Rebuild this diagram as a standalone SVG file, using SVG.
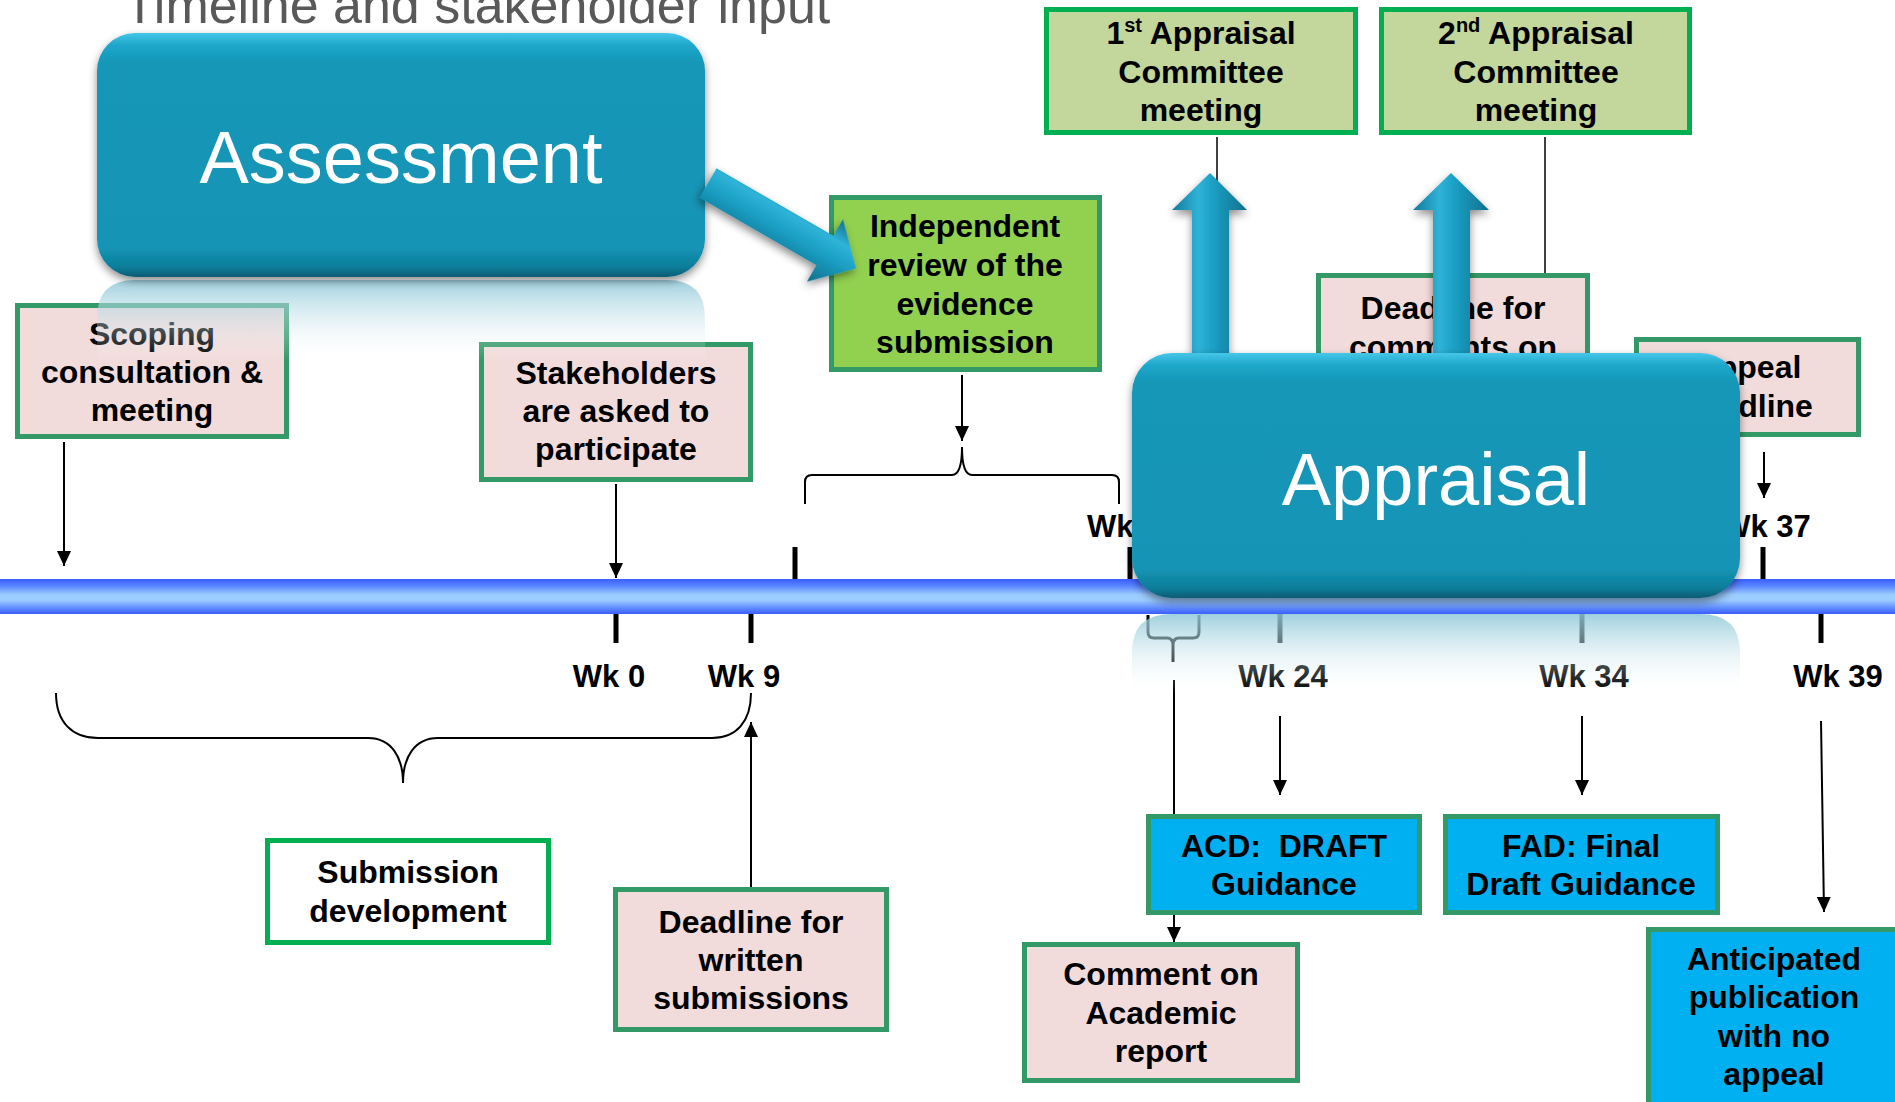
<svg xmlns="http://www.w3.org/2000/svg" width="1895" height="1102" viewBox="0 0 1895 1102">
<style>
.lbl{font-family:"Liberation Sans",Arial,sans-serif;font-weight:bold;font-size:32px;fill:#000;text-anchor:middle}
.wk{font-family:"Liberation Sans",Arial,sans-serif;font-weight:bold;font-size:31px;fill:#000;text-anchor:middle}
.big{font-family:"Liberation Sans",Arial,sans-serif;font-size:74px;fill:#fff;text-anchor:middle}
.title{font-family:"Liberation Sans",Arial,sans-serif;font-size:52px;fill:#595959}
.pink{fill:#f2dcdb;stroke:#339966;stroke-width:5}
.olive{fill:#c3d69b;stroke:#00b050;stroke-width:5}
.green{fill:#92d050;stroke:#339966;stroke-width:5}
.blue{fill:#00b0f0;stroke:#339966;stroke-width:5}
.white{fill:#fff;stroke:#00b050;stroke-width:5}
.conn{stroke:#000;stroke-width:2;fill:none}
.tick{stroke:#000;stroke-width:5}
</style>
<defs>
<marker id="ah" viewBox="0 0 15 14" refX="15" refY="7" markerWidth="15" markerHeight="14" markerUnits="userSpaceOnUse" orient="auto">
<path d="M0,0 L15,7 L0,14 z" fill="#000"/>
</marker>
<linearGradient id="bar" x1="0" y1="0" x2="0" y2="1">
<stop offset="0" stop-color="#3a5cff"/><stop offset="0.2" stop-color="#5a86ff"/><stop offset="0.45" stop-color="#9ccdff"/><stop offset="0.6" stop-color="#9ccdff"/><stop offset="0.85" stop-color="#5a86ff"/><stop offset="1" stop-color="#3a5cff"/>
</linearGradient>
<linearGradient id="box3d" x1="0" y1="0" x2="0" y2="1">
<stop offset="0" stop-color="#44c6e8"/><stop offset="0.05" stop-color="#1ea7ca"/><stop offset="0.12" stop-color="#1497b8"/><stop offset="0.88" stop-color="#1394b5"/><stop offset="0.96" stop-color="#0f7d99"/><stop offset="1" stop-color="#0b5c72"/>
</linearGradient>
<linearGradient id="refl" x1="0" y1="0" x2="0" y2="1">
<stop offset="0" stop-color="#8ec8d8" stop-opacity="0.85"/><stop offset="1" stop-color="#ffffff" stop-opacity="0"/>
</linearGradient>
<linearGradient id="shaft" x1="0" y1="0" x2="1" y2="0">
<stop offset="0" stop-color="#137a99"/><stop offset="0.35" stop-color="#2fb3d8"/><stop offset="0.55" stop-color="#1b9fc4"/><stop offset="1" stop-color="#0f6f8c"/>
</linearGradient>
<linearGradient id="shaftD" x1="0" y1="0" x2="0" y2="1">
<stop offset="0" stop-color="#0f6f8c"/><stop offset="0.3" stop-color="#2fb3d8"/><stop offset="0.55" stop-color="#1b9fc4"/><stop offset="1" stop-color="#0f6f8c"/>
</linearGradient>
<filter id="sh" x="-10%" y="-10%" width="120%" height="130%">
<feDropShadow dx="0" dy="4" stdDeviation="4" flood-color="#000" flood-opacity="0.45"/>
</filter>
</defs>

<text class="title" x="124" y="23">Timeline and stakeholder input</text>

<g id="timeline">
<rect x="0" y="579" width="1895" height="35" fill="url(#bar)"/>
<line class="tick" x1="795" y1="547" x2="795" y2="579"/>
<line class="tick" x1="1130" y1="547" x2="1130" y2="579"/>
<line class="tick" x1="1763" y1="547" x2="1763" y2="579"/>
<line class="tick" x1="616" y1="614" x2="616" y2="643"/>
<line class="tick" x1="751" y1="614" x2="751" y2="643"/>
<line class="tick" x1="1280" y1="614" x2="1280" y2="643"/>
<line class="tick" x1="1582" y1="614" x2="1582" y2="643"/>
<line class="tick" x1="1821" y1="614" x2="1821" y2="643"/>
<text class="wk" x="609" y="687">Wk 0</text>
<text class="wk" x="744" y="687">Wk 9</text>
<text class="wk" x="1283" y="687">Wk 24</text>
<text class="wk" x="1584" y="687">Wk 34</text>
<text class="wk" x="1838" y="687">Wk 39</text>
<text class="wk" x="1087" y="537" style="text-anchor:start">Wk</text>
<text class="wk" x="1766" y="537">Wk 37</text>
</g>

<g id="connectors">
<line class="conn" x1="64" y1="442" x2="64" y2="566" marker-end="url(#ah)"/>
<line class="conn" x1="616" y1="484" x2="616" y2="578" marker-end="url(#ah)"/>
<line class="conn" x1="962" y1="375" x2="962" y2="441" marker-end="url(#ah)"/>
<path class="conn" d="M805,504 L805,482 Q805,475 812,475 L952,475 Q962,475 962,447 Q962,475 972,475 L1112,475 Q1119,475 1119,482 L1119,504"/>
<path class="conn" d="M56,693 C56,722 72,738 98,738 L368,738 C392,738 403,758 403,783 C403,758 414,738 438,738 L712,738 C736,738 751,722 751,693"/>
<line class="conn" x1="751" y1="888" x2="751" y2="722" marker-end="url(#ah)"/>
<path class="conn" style="stroke-width:3" d="M1148,615 L1148,632 Q1148,638 1154,638 L1167,638 Q1173,638 1173,645 L1173,662 M1173,645 Q1173,638 1179,638 L1193,638 Q1199,638 1199,632 L1199,615"/>
<line class="conn" x1="1174" y1="680" x2="1174" y2="942" marker-end="url(#ah)"/>
<line class="conn" x1="1280" y1="716" x2="1280" y2="795" marker-end="url(#ah)"/>
<line class="conn" x1="1582" y1="716" x2="1582" y2="795" marker-end="url(#ah)"/>
<line class="conn" x1="1821" y1="721" x2="1824" y2="912" marker-end="url(#ah)"/>
<line class="conn" x1="1764" y1="452" x2="1764" y2="498" marker-end="url(#ah)"/>
<line class="conn" style="stroke-width:1.5" x1="1217" y1="137" x2="1217" y2="360"/>
<line class="conn" style="stroke-width:1.5" x1="1545" y1="137" x2="1545" y2="273"/>
</g>

<g id="scoping">
<rect class="pink" x="17.5" y="305.5" width="269" height="131"/>
<text class="lbl" x="152" y="345">Scoping</text>
<text class="lbl" x="152" y="383">consultation &amp;</text>
<text class="lbl" x="152" y="421">meeting</text>
</g>

<g id="stakeholders">
<rect class="pink" x="481.5" y="344.5" width="269" height="135"/>
<text class="lbl" x="616" y="384">Stakeholders</text>
<text class="lbl" x="616" y="422">are asked to</text>
<text class="lbl" x="616" y="460">participate</text>
</g>

<g id="independent">
<rect class="green" x="831.5" y="197.5" width="268" height="172"/>
<text class="lbl" x="965" y="237">Independent</text>
<text class="lbl" x="965" y="276">review of the</text>
<text class="lbl" x="965" y="315">evidence</text>
<text class="lbl" x="965" y="353">submission</text>
</g>

<g id="committee1">
<rect class="olive" x="1046.5" y="9.5" width="309" height="123"/>
<text class="lbl" x="1201" y="44">1<tspan font-size="20" dy="-12">st</tspan><tspan dy="12"> Appraisal</tspan></text>
<text class="lbl" x="1201" y="83">Committee</text>
<text class="lbl" x="1201" y="121">meeting</text>
</g>

<g id="committee2">
<rect class="olive" x="1381.5" y="9.5" width="308" height="123"/>
<text class="lbl" x="1536" y="44">2<tspan font-size="20" dy="-12">nd</tspan><tspan dy="12"> Appraisal</tspan></text>
<text class="lbl" x="1536" y="83">Committee</text>
<text class="lbl" x="1536" y="121">meeting</text>
</g>

<g id="deadline-comments">
<rect class="pink" x="1318.5" y="275.5" width="269" height="170"/>
<text class="lbl" x="1453" y="319">Deadline for</text>
<text class="lbl" x="1453" y="358">comments on</text>
</g>

<g id="appeal">
<rect class="pink" x="1636.5" y="339.5" width="222" height="95"/>
<text class="lbl" x="1748" y="378">Appeal</text>
<text class="lbl" x="1748" y="417">deadline</text>
</g>

<g id="submission-development">
<rect class="white" x="267.5" y="840.5" width="281" height="102"/>
<text class="lbl" x="408" y="883">Submission</text>
<text class="lbl" x="408" y="922">development</text>
</g>

<g id="deadline-written">
<rect class="pink" x="615.5" y="889.5" width="271" height="140"/>
<text class="lbl" x="751" y="933">Deadline for</text>
<text class="lbl" x="751" y="971">written</text>
<text class="lbl" x="751" y="1009">submissions</text>
</g>

<g id="acd">
<rect class="blue" x="1148.5" y="816.5" width="271" height="96"/>
<text class="lbl" x="1284" y="857" xml:space="preserve">ACD:  DRAFT</text>
<text class="lbl" x="1284" y="895">Guidance</text>
</g>

<g id="fad">
<rect class="blue" x="1445.5" y="816.5" width="272" height="96"/>
<text class="lbl" x="1581" y="857">FAD: Final</text>
<text class="lbl" x="1581" y="895">Draft Guidance</text>
</g>

<g id="comment-academic">
<rect class="pink" x="1024.5" y="944.5" width="273" height="136"/>
<text class="lbl" x="1161" y="985">Comment on</text>
<text class="lbl" x="1161" y="1024">Academic</text>
<text class="lbl" x="1161" y="1062">report</text>
</g>

<g id="anticipated">
<rect class="blue" x="1648.5" y="929.5" width="260" height="200"/>
<text class="lbl" x="1774" y="970">Anticipated</text>
<text class="lbl" x="1774" y="1008">publication</text>
<text class="lbl" x="1774" y="1047">with no</text>
<text class="lbl" x="1774" y="1085">appeal</text>
</g>

<g id="assessment">
<path d="M97,318 Q97,280 135,280 L667,280 Q705,280 705,318 L705,362 L97,362 Z" fill="url(#refl)"/>
<rect x="97" y="33" width="608" height="244" rx="38" fill="url(#box3d)" filter="url(#sh)"/>
<text class="big" x="401" y="183">Assessment</text>
<g transform="translate(708,183) rotate(30)" filter="url(#sh)">
<path d="M0,-17 L135,-17 L135,-36 L171,0 L135,36 L135,17 L0,17 Z" fill="url(#shaftD)"/>
</g>
</g>

<g id="up-arrows">
<path d="M1210,173 L1247,210 L1229,210 L1229,356 L1192,356 L1192,210 L1172,210 Z" fill="url(#shaft)" filter="url(#sh)"/>
<path d="M1451,173 L1489,210 L1470,210 L1470,356 L1433,356 L1433,210 L1413,210 Z" fill="url(#shaft)" filter="url(#sh)"/>
</g>

<g id="appraisal">
<path d="M1132,652 Q1132,614 1172,614 L1700,614 Q1740,614 1740,652 L1740,694 L1132,694 Z" fill="url(#refl)"/>
<rect x="1132" y="353" width="608" height="245" rx="40" fill="url(#box3d)" filter="url(#sh)"/>
<text class="big" x="1436" y="505">Appraisal</text>
</g>
</svg>
